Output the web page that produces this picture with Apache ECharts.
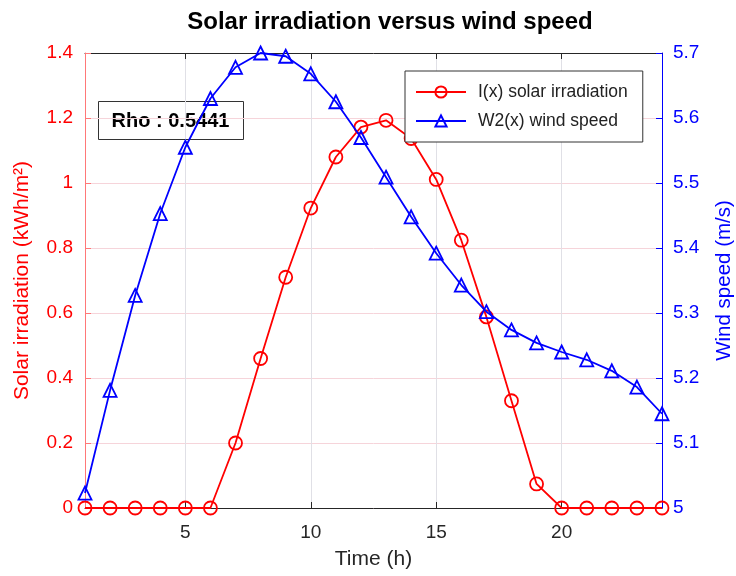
<!DOCTYPE html>
<html>
<head>
<meta charset="utf-8">
<title>Solar irradiation versus wind speed</title>
<script src="https://cdn.jsdelivr.net/npm/echarts@6/dist/echarts.min.js"></script>
<style>
  html, body { margin: 0; padding: 0; background: #fff; }
  #chart { width: 736px; height: 576px; }
</style>
</head>
<body>
<div id="chart"></div>
<script>
// Hours of the day
const hours = ['1','2','3','4','5','6','7','8','9','10','11','12','13','14','15','16','17','18','19','20','21','22','23','24'];
// Solar irradiation I(x), kWh/m²
const irradiation = [0, 0, 0, 0, 0, 0, 0.20, 0.46, 0.71, 0.923, 1.08, 1.172, 1.193, 1.137, 1.011, 0.824, 0.588, 0.33, 0.074, 0, 0, 0, 0, 0];
// Wind speed W2(x), m/s
const windSpeed = [5.023, 5.181, 5.327, 5.453, 5.555, 5.63, 5.678, 5.70, 5.695, 5.668, 5.625, 5.57, 5.509, 5.448, 5.392, 5.343, 5.302, 5.274, 5.254, 5.24, 5.228, 5.211, 5.186, 5.145];
const rhoText = 'Rho : 0.5441';
const xTicks = ['5', '10', '15', '20'];

const FONT = 'Liberation Sans, Arial, Helvetica, sans-serif';
const RED = '#ff0000';
const BLUE = '#0000ff';

const showTick = (i, v) => xTicks.indexOf(v) !== -1;

const chart = echarts.init(document.getElementById('chart'), null, { renderer: 'canvas' });
chart.setOption({
  backgroundColor: '#ffffff',
  animation: false,
  textStyle: { fontFamily: FONT },
  title: {
    text: 'Solar irradiation versus wind speed',
    left: 385, top: 5, textAlign: 'center',
    textStyle: { fontFamily: FONT, fontSize: 24, fontWeight: 'bold', color: '#000' }
  },
  grid: { left: 85, right: 74, top: 53, bottom: 68, containLabel: false, outerBoundsMode: 'none' },
  legend: {
    orient: 'vertical',
    left: 405, top: 71,
    backgroundColor: '#fff',
    borderColor: '#333',
    borderWidth: 1,
    padding: [11, 15, 11, 10],
    itemGap: 9,
    itemWidth: 50,
    itemHeight: 14,
    textStyle: { fontFamily: FONT, fontSize: 17.5, lineHeight: 20, color: '#222', padding: [0, 0, 0, 7] },
    data: ['I(x) solar irradiation', 'W2(x) wind speed']
  },
  xAxis: [{
    type: 'category',
    data: hours,
    boundaryGap: false,
    position: 'bottom',
    name: 'Time (h)',
    nameLocation: 'middle',
    nameGap: 41,
    nameTextStyle: { fontSize: 21, color: '#262626', fontFamily: FONT },
    axisLine: { lineStyle: { color: '#262626', width: 1 } },
    axisTick: { inside: true, length: 6, interval: showTick, lineStyle: { color: '#262626' } },
    axisLabel: { interval: showTick, fontSize: 19, color: '#262626', margin: 15, fontFamily: FONT },
    splitLine: { show: true, interval: showTick, lineStyle: { color: '#e0e0e6', width: 1 } }
  }, {
    type: 'category',
    data: hours,
    boundaryGap: false,
    position: 'top',
    axisLine: { lineStyle: { color: '#262626', width: 1 } },
    axisTick: { inside: true, length: 6, interval: showTick, lineStyle: { color: '#262626' } },
    axisLabel: { show: false },
    splitLine: { show: false }
  }],
  yAxis: [{
    type: 'value',
    min: 0, max: 1.4, interval: 0.2,
    position: 'left',
    name: 'Solar irradiation (kWh/m²)',
    nameLocation: 'middle',
    nameGap: 52,
    nameTextStyle: { fontSize: 21, color: RED, fontFamily: FONT },
    axisLine: { show: true, lineStyle: { color: '#ff7878', width: 1 } },
    axisTick: { show: true, inside: true, length: 6, lineStyle: { color: '#ff7878' } },
    axisLabel: { fontSize: 19, color: RED, margin: 12, fontFamily: FONT },
    splitLine: { show: true, lineStyle: { color: '#f6d4da', width: 1 } }
  }, {
    type: 'value',
    min: 5, max: 5.7, interval: 0.1,
    position: 'right',
    name: 'Wind speed (m/s)',
    nameLocation: 'middle',
    nameGap: 52,
    nameTextStyle: { fontSize: 20.5, color: BLUE, fontFamily: FONT },
    axisLine: { show: true, lineStyle: { color: BLUE, width: 1 } },
    axisTick: { show: true, inside: true, length: 6, lineStyle: { color: BLUE } },
    axisLabel: { fontSize: 19, color: BLUE, margin: 11, fontFamily: FONT,
      formatter: v => String(Math.round(v * 10) / 10) },
    splitLine: { show: false }
  }],
  graphic: [{
    type: 'group',
    left: 98, top: 101,
    z: 1,
    children: [{
      type: 'rect',
      shape: { x: 0, y: 0, width: 145, height: 38 },
      style: { fill: '#fff', stroke: '#333', lineWidth: 1 }
    }, {
      type: 'text',
      x: 72, y: 20,
      style: {
        text: rhoText, fontFamily: FONT, fontSize: 20, fontWeight: 'bold',
        fill: '#000', align: 'center', verticalAlign: 'middle'
      }
    }]
  }],
  series: [{
    name: 'I(x) solar irradiation',
    type: 'line',
    xAxisIndex: 0,
    yAxisIndex: 0,
    data: irradiation,
    symbol: 'circle',
    symbolSize: 13,
    showAllSymbol: true,
    lineStyle: { color: RED, width: 1.8 },
    itemStyle: { color: 'rgba(0,0,0,0)', borderColor: RED, borderWidth: 1.8 },
    emphasis: { disabled: true },
    z: 3
  }, {
    name: 'W2(x) wind speed',
    type: 'line',
    xAxisIndex: 0,
    yAxisIndex: 1,
    data: windSpeed,
    symbol: 'triangle',
    symbolSize: 13,
    showAllSymbol: true,
    lineStyle: { color: BLUE, width: 1.8 },
    itemStyle: { color: 'rgba(0,0,0,0)', borderColor: BLUE, borderWidth: 1.8 },
    emphasis: { disabled: true },
    z: 4
  }]
});
</script>
</body>
</html>
